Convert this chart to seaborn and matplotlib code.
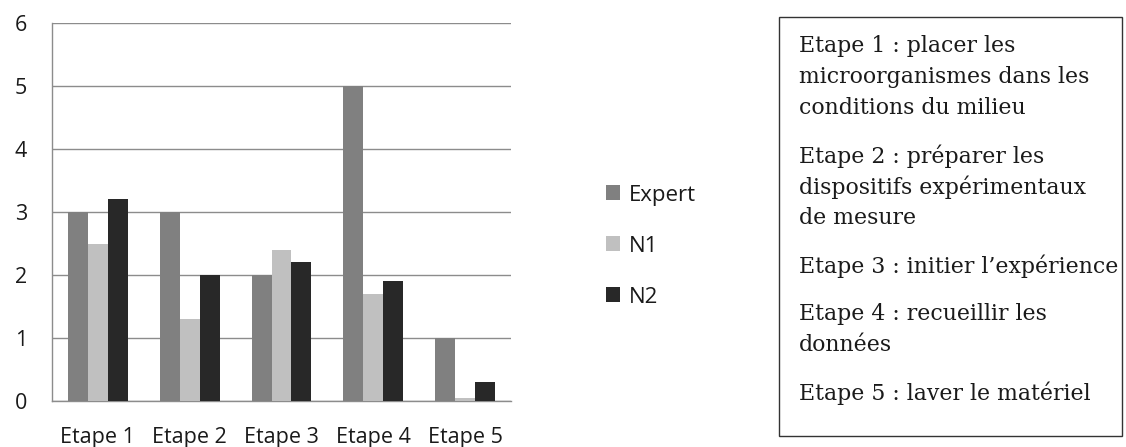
import numpy as np
import pandas as pd
import matplotlib
matplotlib.use("Agg")
import matplotlib.pyplot as plt
import seaborn as sns
from matplotlib.patches import Rectangle

# Data
etapes = ["Etape 1", "Etape 2", "Etape 3", "Etape 4", "Etape 5"]
expert = [3, 3, 2, 5, 1]
n1 = [2.5, 1.3, 2.4, 1.7, 0.05]
n2 = [3.2, 2, 2.2, 1.9, 0.3]
series = ["Expert", "N1", "N2"]
colors = ["#808080", "#c0c0c0", "#282828"]

# Text box content (lines per paragraph)
notes = [
    ["Etape 1 : placer les", "microorganismes dans les", "conditions du milieu"],
    ["Etape 2 : préparer les", "dispositifs expérimentaux", "de mesure"],
    ["Etape 3 : initier l\u2019expérience"],
    ["Etape 4 : recueillir les", "données"],
    ["Etape 5 : laver le matériel"],
]

df = pd.DataFrame({
    "etape": etapes * 3,
    "serie": np.repeat(series, len(etapes)),
    "valeur": expert + n1 + n2,
})

sns.set_style("white")
plt.rcParams["font.family"] = ["Open Sans", "DejaVu Sans"]

fig = plt.figure(figsize=(11.26, 4.47), dpi=100)
ax = fig.add_axes([0.0462, 0.1029, 0.4076, 0.8456])

sns.barplot(data=df, x="etape", y="valeur", hue="serie", palette=colors,
            width=0.65, gap=0, ax=ax, saturation=1, linewidth=0, zorder=3)

ax.set_ylim(0, 6)
ax.set_xlim(-0.5, 4.5)
ax.set_yticks(range(0, 7))
ax.set_xlabel("")
ax.set_ylabel("")
ax.yaxis.grid(True, color="#8c8c8c", linewidth=1, zorder=0)
ax.set_axisbelow(True)

for s in ["top", "right"]:
    ax.spines[s].set_visible(False)
for s in ["left", "bottom"]:
    ax.spines[s].set_color("#8c8c8c")
    ax.spines[s].set_linewidth(1)

ax.set_xticks(np.arange(-0.5, 5, 1), minor=True)
ax.tick_params(axis="x", which="major", length=0, pad=19, labelsize=15.5,
               labelcolor="#1a1a1a")
ax.tick_params(axis="x", which="minor", length=6, color="#8c8c8c", width=1)
ax.tick_params(axis="y", length=14, color="#8c8c8c", width=1, pad=4,
               labelsize=15.5, labelcolor="#1a1a1a")

leg = ax.legend(loc="center left", bbox_to_anchor=(1.207, 0.41), frameon=False,
                fontsize=16, handlelength=0.65, handleheight=0.65,
                handletextpad=0.4, labelspacing=1.35, borderpad=0,
                borderaxespad=0)
for t in leg.get_texts():
    t.set_color("#1a1a1a")

# Text box on the right
fig.patches.append(Rectangle((779 / 1126, 1 - 436 / 447), (1122 - 779) / 1126,
                             (436 - 17) / 447, transform=fig.transFigure,
                             fill=False, edgecolor="#333333", linewidth=1))
y = 46
for para in notes:
    for line in para:
        fig.text(799 / 1126, 1 - y / 447, line, family="DejaVu Serif",
                 fontsize=15.8, va="center", ha="left", color="#1a1a1a")
        y += 31
    y += 17

fig.savefig("out.png", dpi=100)
